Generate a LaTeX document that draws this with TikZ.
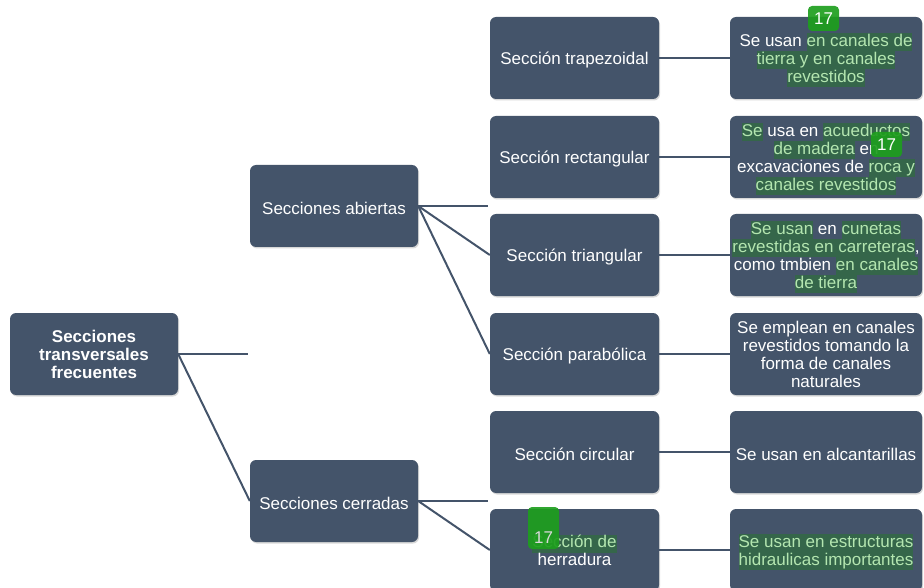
\documentclass[tikz,border=0pt]{standalone}
\usepackage{fontspec}
\setmainfont{Liberation Sans}
\usepackage{xcolor}
\usetikzlibrary{shadows}
\definecolor{slate}{HTML}{44546A}
\definecolor{hlbg}{HTML}{35664A}
\definecolor{hltext}{HTML}{B4E6B0}
\definecolor{badgegreen}{HTML}{1E9E1E}
\newcommand{\hlt}[1]{{\setlength{\fboxsep}{0pt}\colorbox{hlbg}{\color{hltext}\strut #1}}}
\newcommand{\lift}{\rule{0pt}{17.5pt}}

\begin{document}
\begin{tikzpicture}[x=1pt,y=-1pt,
    box/.style={fill=slate, rounded corners=6pt, text=white, align=center, inner sep=0pt,
      drop shadow={shadow xshift=1pt, shadow yshift=-1.5pt, fill=black!30},
      font=\fontsize{17}{18}\selectfont, execute at begin node={\rule{0pt}{16.5pt}}},
    grp/.style={box, minimum width=168pt, minimum height=82pt},
    sec/.style={box, minimum width=169pt, minimum height=82pt},
    desc/.style={box, minimum width=192pt, minimum height=82pt},
    badge/.style={fill=badgegreen, fill opacity=0.92, text opacity=1, rounded corners=4pt, text=white,
      inner sep=0pt, minimum width=31pt, minimum height=25pt, font=\fontsize{17}{18}\selectfont},
    link/.style={draw=slate, line width=2pt}]
    \useasboundingbox (0,0) rectangle (924,588);

    \node[grp, font=\fontsize{17}{18}\selectfont\bfseries] (root) at (94,354) {Secciones\\transversales\\frecuentes};
    \node[grp] (abi) at (334,206) {Secciones abiertas};
    \node[grp] (cer) at (334,501) {Secciones cerradas};

    \node[sec] (trap) at (574.5,58) {Sección trapezoidal};
    \node[sec] (rect) at (574.5,157) {Sección rectangular};
    \node[sec] (tri) at (574.5,255) {Sección triangular};
    \node[sec] (par) at (574.5,354) {Sección parabólica};
    \node[sec] (circ) at (574.5,452) {Sección circular};
    \node[sec] (herr) at (574.5,550) {\hlt{Sección de}\\herradura};

    \node[desc] (dtrap) at (826,58) {\lift Se usan \hlt{en canales de}\\\hlt{tierra y en canales}\\\hlt{revestidos}};
    \node[desc] (drect) at (826,157) {\lift\hlt{Se} usa en \hlt{acueductos}\\\hlt{de madera} en\\excavaciones de \hlt{roca y}\\\hlt{canales revestidos}};
    \node[desc] (dtri) at (826,255) {\lift\hlt{Se usan} en \hlt{cunetas}\\\hlt{revestidas en carreteras},\\como tmbien \hlt{en canales}\\\hlt{de tierra}};
    \node[desc] (dpar) at (826,354) {Se emplean en canales\\revestidos tomando la\\forma de canales\\naturales};
    \node[desc] (dcirc) at (826,452) {Se usan en alcantarillas};
    \node[desc] (dherr) at (826,550) {\lift\hlt{Se usan en estructuras}\\\hlt{hidraulicas importantes}};

    \coordinate (rootend) at (248,354);
    \coordinate (abiend) at (488,206);
    \coordinate (cerend) at (488,501);

    \draw[link] (root.east) -- (rootend);
    \draw[link] (root.east) -- (cer.west);
    \draw[link] (abi.east) -- (abiend);
    \draw[link] (abi.east) -- (tri.west);
    \draw[link] (abi.east) -- (par.west);
    \draw[link] (cer.east) -- (cerend);
    \draw[link] (cer.east) -- (herr.west);

    \draw[link] (trap) -- (dtrap);
    \draw[link] (rect) -- (drect);
    \draw[link] (tri) -- (dtri);
    \draw[link] (par) -- (dpar);
    \draw[link] (circ) -- (dcirc);
    \draw[link] (herr) -- (dherr);

    % badges
    \node[badge] (b1) at (823.5,18.5) {17};
    \node[badge] (b2) at (886.5,144.5) {17};
    \node[badge, minimum height=42pt, text height=30pt, text depth=0pt, text=white!85!black] (b3) at (543.5,528) {17};
  \end{tikzpicture}
\end{document}
